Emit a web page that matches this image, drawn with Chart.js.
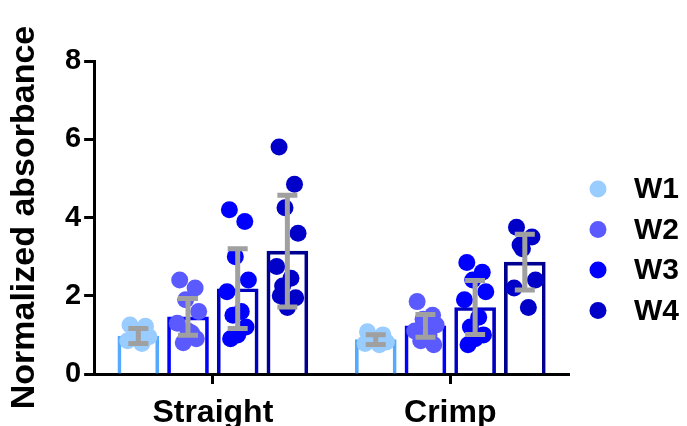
<!DOCTYPE html>
<html>
<head>
<meta charset="utf-8">
<script src="https://cdn.jsdelivr.net/npm/chart.js@4.4.1/dist/chart.umd.min.js"></script>
<style>
  html, body { margin: 0; padding: 0; background: #fff; }
  #wrap { width: 687px; height: 426px; }
</style>
</head>
<body>
<div id="wrap"><canvas id="chart"></canvas></div>
<script>
const CATEGORIES = ["Straight", "Crimp"];
const SERIES = ["W1", "W2", "W3", "W4"];
const Y_TICKS = [0, 2, 4, 6, 8];

// bar heights (mean) per series, [Straight, Crimp]
const MEAN_W1 = [0.97, 0.88];
const MEAN_W2 = [1.46, 1.23];
const MEAN_W3 = [2.18, 1.70];
const MEAN_W4 = [3.14, 2.86];

// error bar half-length (SD)
const SD_W1 = [0.19, 0.125];
const SD_W2 = [0.47, 0.29];
const SD_W3 = [1.02, 0.69];
const SD_W4 = [1.43, 0.71];

// individual replicates, [Straight, Crimp]
const PTS_W1 = [
  [1.25, 1.22, 1.05, 0.95, 0.85, 0.78],
  [1.08, 1.0, 0.9, 0.82, 0.78, 0.75],
];
const PTS_W2 = [
  [2.4, 2.2, 1.9, 1.6, 1.3, 1.05, 0.8, 0.9, 1.1],
  [1.85, 1.5, 1.4, 1.25, 1.1, 1.0, 0.85, 0.75],
];
const PTS_W3 = [
  [4.2, 3.9, 3.0, 2.4, 2.1, 1.6, 1.5, 1.2, 1.0, 0.9],
  [2.85, 2.6, 2.4, 2.1, 1.9, 1.45, 1.2, 1.0, 0.9, 0.75],
];
const PTS_W4 = [
  [5.8, 4.85, 4.25, 3.6, 2.75, 2.45, 2.25, 1.95, 1.7, 2.0],
  [3.75, 3.5, 3.2, 2.4, 2.2, 1.7, 3.3],
];

const MEANS = [MEAN_W1, MEAN_W2, MEAN_W3, MEAN_W4];
const SDS = [SD_W1, SD_W2, SD_W3, SD_W4];
const POINTS = [PTS_W1, PTS_W2, PTS_W3, PTS_W4];

const BAR_BORDER = ["#55aaff", "#0000ff", "#0000c0", "#000090"];
const DOT_COLOR = ["#99ccff", "#5a5aff", "#0000ff", "#0000c8"];
const FONT = "Arial, 'Liberation Sans', Helvetica, sans-serif";

// share of a category taken by its group of bars
const GROUP_SPAN = 0.837;
// horizontal scatter of the dots inside a bar, in category units
const JITTER = [-0.035, 0.03, -0.01, 0.045, -0.045, 0.015, -0.02, 0.035, 0.0, -0.03];

function slotOffset(s) {
  return (s - (SERIES.length - 1) / 2) * GROUP_SPAN / SERIES.length;
}

const barSets = SERIES.map((name, s) => ({
  type: "bar",
  label: name,
  data: MEANS[s].map((v, c) => ({ x: c + slotOffset(s), y: v })),
  backgroundColor: "rgba(255,255,255,0)",
  borderColor: BAR_BORDER[s],
  borderWidth: 3,
  borderSkipped: "start",
  grouped: false,
  barThickness: 41,
  order: 2,
}));

const dotSets = SERIES.map((name, s) => ({
  type: "scatter",
  label: name,
  data: POINTS[s].flatMap((vals, c) =>
    vals.map((v, i) => ({ x: c + slotOffset(s) + JITTER[i % JITTER.length], y: v }))
  ),
  pointRadius: 8.5,
  pointBorderWidth: 0,
  pointBackgroundColor: DOT_COLOR[s],
  backgroundColor: DOT_COLOR[s],
  order: 1,
}));

const errorBars = {
  id: "errorBars",
  afterDatasetsDraw(chart) {
    const { ctx } = chart;
    const y = chart.scales.y;
    ctx.save();
    ctx.strokeStyle = "#a0a0a0";
    ctx.lineWidth = 5;
    SERIES.forEach((_, s) => {
      chart.getDatasetMeta(s).data.forEach((bar, c) => {
        const hi = y.getPixelForValue(MEANS[s][c] + SDS[s][c]);
        const lo = y.getPixelForValue(MEANS[s][c] - SDS[s][c]);
        ctx.beginPath();
        ctx.moveTo(bar.x, hi);
        ctx.lineTo(bar.x, lo);
        ctx.moveTo(bar.x - 10, hi);
        ctx.lineTo(bar.x + 10, hi);
        ctx.moveTo(bar.x - 10, lo);
        ctx.lineTo(bar.x + 10, lo);
        ctx.stroke();
      });
    });
    ctx.restore();
  },
};

const sideLegend = {
  id: "sideLegend",
  afterDraw(chart) {
    const { ctx, chartArea } = chart;
    ctx.save();
    ctx.font = `bold 30px ${FONT}`;
    ctx.textBaseline = "middle";
    SERIES.forEach((name, s) => {
      const cy = chartArea.top + 128 + s * 40.5;
      ctx.beginPath();
      ctx.fillStyle = DOT_COLOR[s];
      ctx.arc(chartArea.right + 29, cy, 8.5, 0, Math.PI * 2);
      ctx.fill();
      ctx.fillStyle = "#000";
      ctx.fillText(name, chartArea.right + 65, cy + 1);
    });
    ctx.restore();
  },
};

const axisGrid = {
  display: true,
  offset: false,
  drawOnChartArea: false,
  drawTicks: true,
  tickLength: 10,
  tickWidth: 3,
  tickColor: "#000",
};

new Chart(document.getElementById("chart"), {
  type: "bar",
  data: { datasets: [...barSets, ...dotSets] },
  options: {
    responsive: true,
    maintainAspectRatio: false,
    animation: false,
    layout: { padding: { top: 61, left: 8, right: 118, bottom: 0 } },
    plugins: { legend: { display: false }, tooltip: { enabled: false } },
    scales: {
      x: {
        type: "linear",
        offset: false,
        min: -0.5,
        max: CATEGORIES.length - 0.5,
        afterBuildTicks: (axis) => { axis.ticks = CATEGORIES.map((_, i) => ({ value: i })); },
        afterFit: (axis) => { axis.height = 52; },
        grid: axisGrid,
        border: { display: true, color: "#000", width: 3 },
        ticks: {
          color: "#000",
          padding: 13,
          maxRotation: 0,
          callback: (v) => CATEGORIES[v],
          font: { family: FONT, size: 32, weight: "bold", lineHeight: 1 },
        },
      },
      y: {
        min: 0,
        max: 8,
        afterBuildTicks: (axis) => { axis.ticks = Y_TICKS.map((v) => ({ value: v })); },
        grid: axisGrid,
        border: { display: true, color: "#000", width: 3 },
        ticks: {
          color: "#000",
          padding: 3,
          font: { family: FONT, size: 29, weight: "bold" },
        },
        title: {
          display: true,
          text: "Normalized absorbance",
          color: "#000",
          padding: { top: 0, bottom: 20 },
          font: { family: FONT, size: 34, weight: "bold", lineHeight: 1 },
        },
      },
    },
  },
  plugins: [errorBars, sideLegend],
});
</script>
</body>
</html>
